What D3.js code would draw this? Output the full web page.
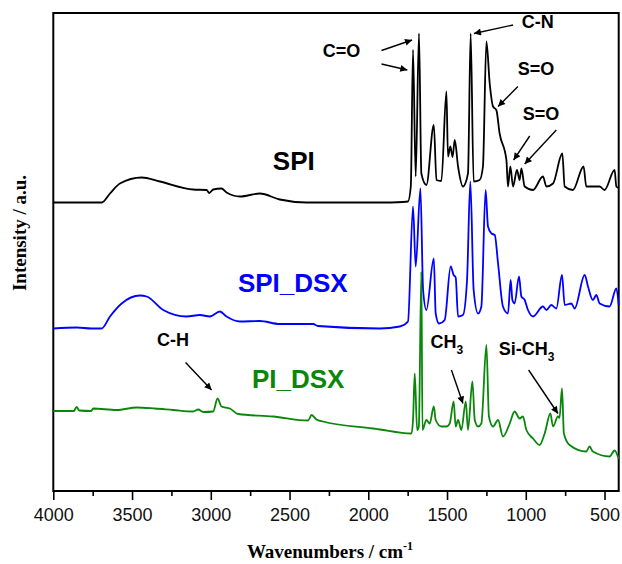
<!DOCTYPE html>
<html>
<head>
<meta charset="utf-8">
<script src="https://cdn.jsdelivr.net/npm/d3@7"></script>
<style>
  body { margin: 0; background: #fff; }
  svg { display: block; }
</style>
</head>
<body>
<div id="main"></div>
<script>
// wavenumber (cm-1), intensity (a.u., curves are stacked)
const spiData = [
  [4000, 57.7], [3693, 57.7], [3640, 59.5], [3577, 61.5], [3439, 62.7], [3323, 61.9], [3112, 60.3],
  [3027, 60.2], [3010, 59.6], [2985, 60.3], [2932, 60.5], [2900, 59.7], [2815, 58.9], [2689, 59.5],
  [2562, 58.3], [2392, 57.7], [1927, 57.7], [1780, 57.8], [1748, 57.9], [1730, 60.9], [1716, 88.2],
  [1699, 62.9], [1678, 91.5], [1663, 63.5], [1631, 61.2], [1584, 73.2], [1567, 62.2], [1536, 62.0],
  [1504, 79.9], [1494, 66.9], [1479, 68.9], [1465, 66.8], [1451, 70.2], [1430, 64.9], [1399, 60.9],
  [1367, 63.5], [1350, 91.5], [1331, 61.9], [1293, 62.2], [1272, 64.9], [1250, 89.9], [1229, 81.5],
  [1208, 76.9], [1187, 76.2], [1166, 71.5], [1123, 66.2], [1113, 60.9], [1098, 64.9], [1081, 60.9],
  [1056, 64.2], [1039, 62.2], [1028, 64.5], [1007, 60.9], [954, 60.2], [891, 62.9], [869, 60.9],
  [827, 61.5], [768, 67.5], [753, 60.9], [701, 60.2], [633, 64.9], [616, 60.9], [531, 60.9],
  [500, 60.2], [436, 64.2], [425, 60.9], [410, 60.6]
];

const spiDsxData = [
  [4000, 32.5], [3850, 32.7], [3760, 32.5], [3693, 32.5], [3640, 34.9], [3566, 37.5], [3450, 39.1],
  [3407, 38.9], [3302, 36.2], [3154, 34.9], [3069, 35.2], [3006, 34.9], [2942, 35.9], [2900, 34.9],
  [2815, 33.9], [2689, 34.0], [2562, 33.4], [2350, 33.4], [2320, 33.0], [1927, 32.5], [1800, 32.9],
  [1748, 33.9], [1716, 56.9], [1699, 44.9], [1669, 60.5], [1652, 40.2], [1631, 36.2], [1584, 46.5],
  [1572, 35.5], [1551, 33.5], [1515, 34.2], [1477, 44.9], [1458, 43.2], [1445, 42.7], [1430, 34.9],
  [1399, 35.2], [1373, 42.2], [1352, 61.9], [1331, 40.2], [1303, 35.5], [1282, 36.9], [1255, 60.2],
  [1240, 52.9], [1218, 51.5], [1197, 51.2], [1176, 45.5], [1145, 36.9], [1113, 35.5], [1096, 42.2],
  [1085, 38.2], [1071, 37.5], [1043, 42.9], [1028, 38.9], [1007, 38.2], [986, 36.2], [954, 34.9],
  [891, 36.9], [869, 36.2], [838, 37.2], [806, 36.5], [770, 43.2], [753, 37.2], [711, 37.5],
  [690, 36.5], [626, 43.2], [605, 40.9], [574, 38.2], [552, 39.2], [531, 37.5], [468, 36.9],
  [425, 40.5], [410, 37.2]
];

const piDsxData = [
  [4000, 16.0], [3870, 16.0], [3852, 16.8], [3835, 16.1], [3760, 16.0], [3746, 16.5], [3598, 16.2],
  [3471, 16.7], [3355, 16.5], [3239, 16.2], [3112, 15.9], [3080, 16.3], [3048, 15.8], [2985, 15.9],
  [2957, 18.5], [2932, 16.9], [2879, 16.5], [2826, 15.4], [2604, 14.9], [2382, 14.1], [2360, 15.2],
  [2329, 14.3], [2287, 13.9], [1970, 12.5], [1927, 12.3], [1726, 11.5], [1716, 14.2], [1705, 23.5],
  [1690, 12.2], [1679, 12.9], [1663, 43.9], [1656, 12.2], [1631, 14.2], [1610, 13.5], [1584, 16.9],
  [1572, 14.2], [1536, 12.9], [1504, 12.9], [1483, 13.5], [1458, 17.9], [1445, 12.9], [1430, 14.2],
  [1409, 12.2], [1381, 17.9], [1367, 12.2], [1339, 21.9], [1324, 14.2], [1303, 12.9], [1282, 13.5],
  [1250, 29.2], [1234, 14.9], [1208, 12.9], [1176, 14.2], [1145, 10.9], [1102, 13.5], [1071, 15.9],
  [1039, 14.5], [1018, 14.9], [996, 12.2], [954, 10.5], [912, 9.2], [880, 11.5], [844, 15.5],
  [827, 12.9], [796, 14.9], [786, 14.6], [770, 20.5], [758, 11.5], [722, 9.2], [616, 7.9],
  [595, 8.9], [574, 7.9], [468, 6.9], [436, 8.1], [410, 6.4]
];

const xTicks = [4000, 3500, 3000, 2500, 2000, 1500, 1000, 500];
const xMinorTicks = [3750, 3250, 2750, 2250, 1750, 1250, 750];

const seriesNames = ["SPI", "SPI_DSX", "PI_DSX"];
const seriesColors = ["#000000", "#0000ff", "#0a870a"];

// label text, anchor wavenumber, anchor intensity
const seriesLabels = [
  { text: "SPI", w: 2606, v: 64.2 },
  { text: "SPI_DSX", w: 2828, v: 39.8 },
  { text: "PI_DSX", w: 2739, v: 20.6 }
];

// peak annotations: label position and arrows [from, to] in (wavenumber, intensity)
const annotations = [
  { text: "C=O", w: 2289, v: 86.8, arrows: [[[1916, 88.1], [1722, 90.2]], [[1916, 85.4], [1752, 84.2]]] },
  { text: "C-N", w: 1026, v: 92.6, arrows: [[[1081, 93.2], [1329, 91.5]]] },
  { text: "S=O", w: 1051, v: 83.2, arrows: [[[1050, 80.9], [1176, 76.9]]] },
  { text: "S=O", w: 1020, v: 74.2, arrows: [[[975, 71.0], [1077, 66.2]], [[806, 72.2], [1007, 65.4]]] },
  { text: "C-H", w: 3342, v: 29.0, arrows: [[[3160, 25.7], [2995, 20.2]]] }
];

// subscript labels
const subLabels = [
  { main: "CH", sub: "3", w: 1605, v: 28.6, arrow: [[1472, 24.2], [1399, 17.5]] },
  { main: "Si-CH", sub: "3", w: 1172, v: 27.2, arrow: [[982, 24.2], [796, 15.5]] }
];

class GraficoEspectro {
  constructor(config) {
    this.config = config;
    this.svg = d3.select(config.div).append("svg")
      .attr("width", config.W)
      .attr("height", config.H);
    this.g = this.svg.append("g");
  }

  createScales() {
    const c = this.config;
    this.x = d3.scaleLinear().domain([4000, 410]).range([c.left, c.right]);
    this.y = d3.scaleLinear().domain([0, 95.6]).range([c.bottom, c.top]);
  }

  createAxis() {
    const c = this.config;
    const ax = this.g.append("g")
      .attr("transform", `translate(0,${c.bottom})`)
      .call(d3.axisBottom(this.x).tickValues(xTicks).tickSize(9).tickPadding(8).tickFormat(d3.format("d")));
    ax.select(".domain").remove();
    ax.selectAll(".tick line").attr("stroke-width", 1.6);
    ax.selectAll("text")
      .attr("font-family", "Liberation Sans, Arial, sans-serif")
      .attr("font-size", 18)
      .attr("fill", "#111");

    const minor = this.g.append("g")
      .attr("transform", `translate(0,${c.bottom})`)
      .call(d3.axisBottom(this.x).tickValues(xMinorTicks).tickSize(5).tickFormat(""));
    minor.select(".domain").remove();
    minor.selectAll(".tick line").attr("stroke-width", 1.6);

    this.g.append("rect")
      .attr("x", c.left).attr("y", c.top)
      .attr("width", c.right - c.left).attr("height", c.bottom - c.top)
      .attr("fill", "none").attr("stroke", "#000").attr("stroke-width", 2);

    this.svg.append("text")
      .attr("transform", `translate(26,233) rotate(-90)`)
      .attr("text-anchor", "middle")
      .attr("font-family", "Liberation Serif, Times New Roman, serif")
      .attr("font-weight", "bold")
      .attr("font-size", 19)
      .text("Intensity / a.u.");

    const xl = this.svg.append("text")
      .attr("x", 330).attr("y", 558)
      .attr("text-anchor", "middle")
      .attr("font-family", "Liberation Serif, Times New Roman, serif")
      .attr("font-weight", "bold")
      .attr("font-size", 19);
    xl.append("tspan").text("Wavenumbers / cm");
    xl.append("tspan").attr("dy", -8).attr("font-size", 12).text("-1");
  }

  renderLines() {
    const line = d3.line()
      .x(d => this.x(d[0]))
      .y(d => this.y(d[1]))
      .curve(d3.curveMonotoneX);
    [spiData, spiDsxData, piDsxData].forEach((s, i) => {
      this.g.append("path")
        .datum(s)
        .attr("d", line)
        .attr("fill", "none")
        .attr("stroke", seriesColors[i])
        .attr("stroke-width", 1.8)
        .attr("stroke-linejoin", "round");
    });
  }

  renderLabels() {
    const defs = this.svg.append("defs");
    defs.append("marker")
      .attr("id", "head")
      .attr("viewBox", "0 0 10 10")
      .attr("refX", 10).attr("refY", 5)
      .attr("markerWidth", 9).attr("markerHeight", 7)
      .attr("markerUnits", "userSpaceOnUse")
      .attr("orient", "auto")
      .append("path").attr("d", "M0,0 L10,5 L0,10 z").attr("fill", "#000");

    seriesLabels.forEach((d, i) => {
      this.g.append("text")
        .attr("x", this.x(d.w)).attr("y", this.y(d.v))
        .attr("font-family", "Liberation Sans, Arial, sans-serif")
        .attr("font-weight", "bold")
        .attr("font-size", 26)
        .attr("fill", seriesColors[i])
        .text(d.text);
    });

    const arrow = (a) => {
      this.g.append("line")
        .attr("x1", this.x(a[0][0])).attr("y1", this.y(a[0][1]))
        .attr("x2", this.x(a[1][0])).attr("y2", this.y(a[1][1]))
        .attr("stroke", "#000").attr("stroke-width", 1.4)
        .attr("marker-end", "url(#head)");
    };

    annotations.forEach(d => {
      this.g.append("text")
        .attr("x", this.x(d.w)).attr("y", this.y(d.v))
        .attr("font-family", "Liberation Sans, Arial, sans-serif")
        .attr("font-weight", "bold")
        .attr("font-size", 18)
        .text(d.text);
      d.arrows.forEach(arrow);
    });

    subLabels.forEach(d => {
      const t = this.g.append("text")
        .attr("x", this.x(d.w)).attr("y", this.y(d.v))
        .attr("font-family", "Liberation Sans, Arial, sans-serif")
        .attr("font-weight", "bold")
        .attr("font-size", 18);
      t.append("tspan").text(d.main);
      t.append("tspan").attr("dy", 6).attr("font-size", 12).text(d.sub);
      arrow(d.arrow);
    });
  }
}

function main() {
  const c = { div: "#main", W: 622, H: 564, left: 53.3, right: 618.7, top: 13, bottom: 491 };
  const a = new GraficoEspectro(c);
  a.createScales();
  a.createAxis();
  a.renderLines();
  a.renderLabels();
}

main();
</script>
</body>
</html>
